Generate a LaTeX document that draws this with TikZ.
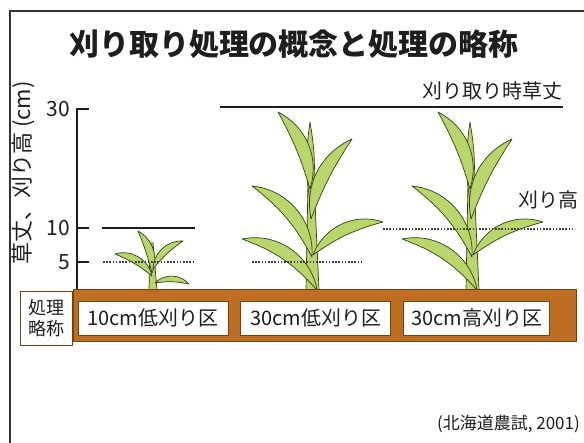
\documentclass[tikz,border=0pt]{standalone}
\usepackage{fontspec}
\setmainfont{Noto Sans CJK JP}
\usetikzlibrary{positioning}

\definecolor{ink}{RGB}{30,30,30}
\definecolor{leafgreen}{RGB}{184,214,108}
\definecolor{leafedge}{RGB}{52,62,20}
\definecolor{soilbrown}{RGB}{190,110,32}
\definecolor{soiledge}{RGB}{120,66,14}

% one curved blade: base, tip, outer bend, inner bend
\newcommand{\leaf}[4]{\filldraw[leaf] #1 to[bend left=#3] #2 to[bend right=#4] #1 -- cycle;}

% the tall plant, shifted along x
\newcommand{\tallplant}[1]{%
  \begin{scope}[xshift=#1]
    \filldraw[leaf] (306,153) -- (319,153) -- (314,262) -- (308,262) -- cycle;
    \leaf{(311,236)}{(310,321)}{9}{-9}
    \leaf{(310,254)}{(278,331)}{-40}{-6}
    \leaf{(311,224)}{(352,304)}{38}{6}
    \leaf{(312,186)}{(252,257)}{-44}{-12}
    \leaf{(313,188)}{(383,221)}{44}{10}
    \leaf{(317,153)}{(242,204)}{-46}{-14}
  \end{scope}}

\begin{document}
\begin{tikzpicture}[x=1pt,y=1pt,
  frame/.style={line width=2pt,draw=black!80},
  axis/.style={line width=2.2pt,draw=ink},
  cropline/.style={line width=2pt,draw=ink},
  cutline/.style={line width=2pt,draw=black!75,dash pattern=on 1.6pt off 1.6pt},
  leaf/.style={fill=leafgreen,draw=leafedge,line width=0.7pt,line join=round},
  soil/.style={fill=soilbrown,draw=soiledge,line width=1pt},
  namebox/.style={draw=soiledge,fill=white,line width=0.8pt,minimum height=34pt,
    minimum width=150pt,inner sep=0pt,text=ink,font=\fontsize{20}{24}\selectfont},
  label/.style={text=ink,inner sep=0pt,font=\fontsize{20}{24}\selectfont}]
  \useasboundingbox (0,0) rectangle (584,443);

  % Draw the frame
  \draw[frame] (10,-2) -- (10,432) -- (586,432);

  % Draw the title
  \node[label,font=\bfseries\fontsize{30}{36}\selectfont] (title) at (294,399)
    {刈り取り処理の概念と処理の略称};

  % Draw the axis
  \draw[axis] (89,334) -- (77,334) -- (77,153);
  \draw[axis] (77,215) -- (89,215);
  \draw[axis] (77,181) -- (89,181);
  \node[label,anchor=east,font=\fontsize{21}{24}\selectfont] (t30) at (70,334) {30};
  \node[label,anchor=east,font=\fontsize{21}{24}\selectfont] (t10) at (70,215) {10};
  \node[label,anchor=east,font=\fontsize{21}{24}\selectfont] (t5) at (70,181) {5};
  \node[label,rotate=90,font=\fontsize{22}{24}\selectfont] (ylab) at (23,270)
    {草丈、刈り高 (cm)};

  % Draw the plants
  \filldraw[leaf] (149,153) -- (157,153) -- (153,200) -- (150,200) -- cycle;
  \leaf{(152,170)}{(138,212)}{-42}{-4}
  \leaf{(153,174)}{(183,202)}{46}{8}
  \leaf{(152,167)}{(115,189)}{-48}{-8}
  \leaf{(155,160)}{(189,159)}{48}{10}
  \tallplant{0}
  \tallplant{160}

  % Draw the soil and the names
  \filldraw[soil] (73,101) rectangle (576,153);
  \node[namebox] (low10) at (153,125) {10cm低刈り区};
  \node[namebox,right=12pt of low10] (low30) {30cm低刈り区};
  \node[namebox,right=12pt of low30,minimum width=146pt] (high30) {30cm高刈り区};
  \node[namebox,left=5pt of low10,minimum width=52pt,minimum height=54pt,
    align=center,font=\fontsize{18}{21}\selectfont] (abbr) {処理\\略称};

  % Draw the plant heights at cutting
  \draw[cropline] (102,215) -- (195,215);
  \draw[cropline] (220,336) -- (563,336);
  \node[label,anchor=south east] (croplab) at (563,343) {刈り取り時草丈};

  % Draw the cutting heights
  \draw[cutline] (103,181) -- (193,181);
  \draw[cutline] (252,181) -- (362,181);
  \draw[cutline] (383,214) -- (575,214);
  \node[label] (cutlab) at (548,243) {刈り高};

  % Draw the source
  \node[label,anchor=east,font=\fontsize{17}{19}\selectfont] (source) at (580,19)
    {(北海道農試, 2001)};
\end{tikzpicture}
\end{document}
